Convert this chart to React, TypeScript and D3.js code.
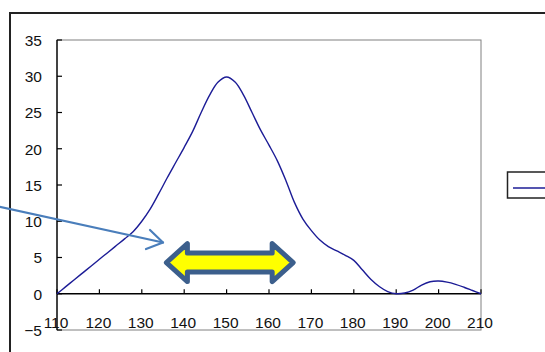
import React from "react";
import * as d3 from "d3";

// values
const xValues = [
  110, 112, 114, 116, 118, 120, 122, 124, 126, 128, 130, 132, 134, 136, 138, 140, 142, 144, 146, 148,
  150, 152, 154, 156, 158, 160, 162, 164, 166, 168, 170, 172, 174, 176, 178, 180, 182, 184, 186, 188,
  190, 192, 194, 196, 198, 200, 202, 204, 206, 208, 210,
];
const yValues = [
  0, 0.95, 1.9, 2.85, 3.8, 4.75, 5.7, 6.65, 7.6, 8.6, 10.0, 11.7, 13.8, 16.0, 18.1, 20.2, 22.4, 25.0, 27.4, 29.2,
  29.9, 29.2, 27.4, 25.0, 22.6, 20.5, 18.3, 15.6, 12.6, 10.3, 8.7, 7.4, 6.5, 5.9, 5.3, 4.6, 3.3, 2.0, 1.0, 0.3,
  0, 0.1, 0.5, 1.2, 1.65, 1.75, 1.6, 1.3, 0.9, 0.45, 0,
];
const xTicks = [110, 120, 130, 140, 150, 160, 170, 180, 190, 200, 210];
const yTicks = [-5, 0, 5, 10, 15, 20, 25, 30, 35];

const W = 545;
const H = 352;
const plot = { left: 57, right: 481, top: 40, bottom: 330 };
const font = "'Liberation Sans', Arial, sans-serif";

const App = () => {
  const x = d3.scaleLinear().domain([110, 210]).range([plot.left, plot.right]);
  const y = d3.scaleLinear().domain([-5, 35]).range([plot.bottom, plot.top]);

  const pts: [number, number][] = xValues.map((v, i) => [v, yValues[i]]);
  const line = d3
    .line<[number, number]>()
    .x((d) => x(d[0]))
    .y((d) => y(d[1]))
    .curve(d3.curveCatmullRom.alpha(0.5));

  const y0 = y(0);

  // yellow double arrow, between values ~136 and ~166 at y ~4.3
  const ax0 = x(135.8), ax1 = x(165.7), ay = y(4.3);
  const headW = 21, headH = 19, shaftH = 9.5;
  const dbl = [
    [ax0, ay], [ax0 + headW, ay - headH], [ax0 + headW, ay - shaftH],
    [ax1 - headW, ay - shaftH], [ax1 - headW, ay - headH], [ax1, ay],
    [ax1 - headW, ay + headH], [ax1 - headW, ay + shaftH],
    [ax0 + headW, ay + shaftH], [ax0 + headW, ay + headH],
  ];

  return (
    <svg width={W} height={H} style={{ position: "absolute", left: 0, top: 0, background: "#fff" }}>
      {/* outer chart frame */}
      <rect x={10} y={13} width={W + 20} height={H + 20} fill="none" stroke="#222" strokeWidth={2} />

      {/* plot area border */}
      <rect x={plot.left} y={plot.top} width={plot.right - plot.left} height={plot.bottom - plot.top}
        fill="none" stroke="#808080" strokeWidth={1} />

      {/* y axis */}
      <line x1={plot.left} x2={plot.left} y1={plot.top} y2={plot.bottom} stroke="#000" strokeWidth={1.3} />
      {yTicks.map((t) => (
        <g key={t}>
          <line x1={plot.left} x2={plot.left + 5} y1={y(t)} y2={y(t)} stroke="#000" strokeWidth={1.2} />
          <text x={42} y={y(t) + 5.8} textAnchor="end" fontFamily={font} fontSize={15.5} fill="#111">
            {t < 0 ? "\u2212" + Math.abs(t) : t}
          </text>
        </g>
      ))}

      {/* x axis at zero */}
      <line x1={plot.left} x2={plot.right} y1={y0} y2={y0} stroke="#000" strokeWidth={1.3} />
      {xTicks.map((t) => (
        <g key={t}>
          <line x1={x(t)} x2={x(t)} y1={y0} y2={y0 - 4.5} stroke="#000" strokeWidth={1.2} />
          <text x={x(t) - 1} y={y0 + 34} textAnchor="middle" fontFamily={font} fontSize={15.5} fill="#111">
            {t}
          </text>
        </g>
      ))}

      {/* series */}
      <path d={line(pts) ?? ""} fill="none" stroke="#1c1c96" strokeWidth={1.4} />

      {/* pointer arrow */}
      <g stroke="#4a7ebb" strokeWidth={2.2} fill="none" strokeLinecap="round" strokeLinejoin="round">
        <line x1={-2} y1={206.5} x2={163} y2={242.5} />
        <polyline points="150,230 163,242.5 146,249" />
      </g>

      {/* yellow double arrow */}
      <polygon points={dbl.map((p) => p.join(",")).join(" ")} fill="#ffff00" stroke="#3c5f8c"
        strokeWidth={5} strokeLinejoin="round" />

      {/* legend */}
      <rect x={507.5} y={172} width={60} height={26} fill="#fff" stroke="#222" strokeWidth={1.5} />
      <line x1={513} x2={560} y1={188} y2={188} stroke="#1c1c96" strokeWidth={1.5} />
    </svg>
  );
};

export default App;
